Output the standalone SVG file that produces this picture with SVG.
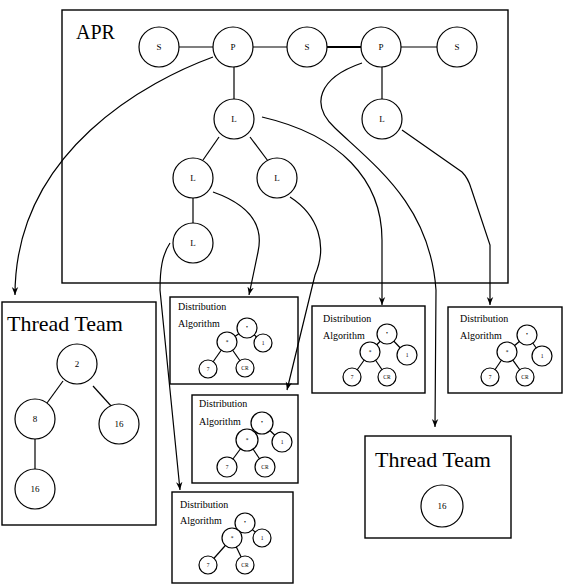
<svg xmlns="http://www.w3.org/2000/svg" width="570" height="585" viewBox="0 0 570 585">
<style>
rect.box{fill:none;stroke:#000;stroke-width:1.4}
circle{fill:#fff;stroke:#000;stroke-width:1.2}
.e{stroke:#000;stroke-width:1.2;fill:none}
.c{stroke:#000;stroke-width:1.2;fill:none;marker-end:url(#ah)}
text{font-family:"Liberation Serif","Times New Roman",serif;fill:#000}
.n{font-size:9px;text-anchor:middle;dominant-baseline:central}
.s{font-size:5.5px;text-anchor:middle;dominant-baseline:central}
.big{font-size:22px}
.d{font-size:10px}
</style>
<defs>
<marker id="ah" viewBox="0 0 10 10" refX="10" refY="5" markerWidth="8" markerHeight="8" markerUnits="userSpaceOnUse" orient="auto">
<path d="M0,1 L10,5 L0,9 L3,5 Z" fill="#000"/>
</marker>
</defs>
<rect width="570" height="585" fill="#fff"/>

<g id="apr">
<rect class="box" x="62" y="10" width="446" height="273"/>
<text x="76" y="39" style="font-size:20px">APR</text>
<g class="e">
<line x1="179" y1="47" x2="213" y2="47"/>
<line x1="253" y1="47" x2="287" y2="47"/>
<line x1="327" y1="47" x2="361" y2="47" stroke-width="1.8"/>
<line x1="401" y1="47" x2="437" y2="47"/>
<line x1="234" y1="67" x2="234" y2="99"/>
<line x1="382" y1="67" x2="382" y2="99"/>
<line x1="219" y1="137" x2="203" y2="160"/>
<line x1="250" y1="137" x2="268" y2="161"/>
<line x1="193" y1="198" x2="193" y2="223"/>
</g>
</g>
<g id="s1"><circle cx="159" cy="47" r="20"/><text class="n" x="159" y="47">S</text></g>
<g id="p1"><circle cx="233" cy="47" r="20"/><text class="n" x="233" y="47">P</text></g>
<g id="s2"><circle cx="307" cy="47" r="20"/><text class="n" x="307" y="47">S</text></g>
<g id="p2"><circle cx="381" cy="47" r="20"/><text class="n" x="381" y="47">P</text></g>
<g id="s3"><circle cx="457" cy="47" r="20"/><text class="n" x="457" y="47">S</text></g>
<g id="l1"><circle cx="234" cy="119" r="20"/><text class="n" x="234" y="119">L</text></g>
<g id="l2"><circle cx="382" cy="119" r="20"/><text class="n" x="382" y="119">L</text></g>
<g id="l3"><circle cx="193" cy="178" r="20"/><text class="n" x="193" y="178">L</text></g>
<g id="l4"><circle cx="277" cy="178" r="20"/><text class="n" x="277" y="178">L</text></g>
<g id="l5"><circle cx="193" cy="243" r="20"/><text class="n" x="193" y="243">L</text></g>

<g id="tt1">
<rect class="box" x="2" y="302" width="154" height="223"/>
<text class="big" x="7" y="331">Thread Team</text>
<g class="e">
<line x1="63" y1="381" x2="47" y2="403"/>
<line x1="93" y1="386" x2="112" y2="407"/>
<line x1="35" y1="439" x2="35" y2="469"/>
</g>
<circle cx="77" cy="364" r="20"/><text class="n" x="77" y="364">2</text>
<circle cx="35" cy="419" r="20"/><text class="n" x="35" y="419">8</text>
<circle cx="119" cy="424" r="20"/><text class="n" x="119" y="424">16</text>
<circle cx="35" cy="489" r="20"/><text class="n" x="35" y="489">16</text>
</g>

<g id="tt2">
<rect class="box" x="365" y="436" width="146" height="102"/>
<text class="big" x="375" y="467">Thread Team</text>
<circle cx="442" cy="506" r="21"/><text class="n" x="442" y="506">16</text>
</g>

<g id="da1">
<rect class="box" x="170" y="297" width="128" height="87"/>
<text class="d" x="178" y="310">Distribution</text>
<text class="d" x="178" y="327">Algorithm</text>
<g class="e"><line x1="247" y1="328" x2="227" y2="342"/><line x1="247" y1="328" x2="263" y2="343"/><line x1="227" y1="342" x2="208" y2="369"/><line x1="227" y1="342" x2="245" y2="368"/></g>
<circle cx="247" cy="328" r="10"/><text class="s" x="247" y="327">•</text>
<circle cx="227" cy="342" r="10"/><text class="s" x="227" y="342">*</text>
<circle cx="263" cy="343" r="9"/><text class="s" x="263" y="343">1</text>
<circle cx="208" cy="369" r="9"/><text class="s" x="208" y="369">7</text>
<circle cx="245" cy="368" r="9"/><text class="s" x="245" y="368">CR</text>
</g>

<g id="da2">
<rect class="box" x="312" y="306" width="113" height="87"/>
<text class="d" x="323" y="322">Distribution</text>
<text class="d" x="323" y="339">Algorithm</text>
<g class="e"><line x1="387" y1="334" x2="370" y2="352"/><line x1="387" y1="334" x2="407" y2="355"/><line x1="370" y1="352" x2="352" y2="377"/><line x1="370" y1="352" x2="387" y2="377"/></g>
<circle cx="387" cy="334" r="10"/><text class="s" x="387" y="333">•</text>
<circle cx="370" cy="352" r="10"/><text class="s" x="370" y="352">*</text>
<circle cx="407" cy="355" r="10"/><text class="s" x="407" y="355">1</text>
<circle cx="352" cy="377" r="9"/><text class="s" x="352" y="377">7</text>
<circle cx="387" cy="377" r="9"/><text class="s" x="387" y="377">CR</text>
</g>

<g id="da3">
<rect class="box" x="448" y="307" width="114" height="86"/>
<text class="d" x="460" y="322">Distribution</text>
<text class="d" x="460" y="339">Algorithm</text>
<g class="e"><line x1="527" y1="335" x2="507" y2="352"/><line x1="527" y1="335" x2="542" y2="356"/><line x1="507" y1="352" x2="490" y2="377"/><line x1="507" y1="352" x2="525" y2="377"/></g>
<circle cx="527" cy="335" r="10"/><text class="s" x="527" y="334">•</text>
<circle cx="507" cy="352" r="10"/><text class="s" x="507" y="352">*</text>
<circle cx="542" cy="356" r="10"/><text class="s" x="542" y="356">1</text>
<circle cx="490" cy="377" r="9"/><text class="s" x="490" y="377">7</text>
<circle cx="525" cy="377" r="9"/><text class="s" x="525" y="377">CR</text>
</g>

<g id="da4">
<rect class="box" x="192" y="395" width="106" height="88"/>
<text class="d" x="199" y="407">Distribution</text>
<text class="d" x="199" y="425">Algorithm</text>
<g class="e"><line x1="262" y1="423" x2="247" y2="440"/><line x1="262" y1="423" x2="282" y2="442"/><line x1="247" y1="440" x2="227" y2="467"/><line x1="247" y1="440" x2="265" y2="467"/></g>
<circle cx="262" cy="423" r="11"/><text class="s" x="262" y="422">•</text>
<circle cx="247" cy="440" r="11"/><text class="s" x="247" y="440">*</text>
<circle cx="282" cy="442" r="10"/><text class="s" x="282" y="442">1</text>
<circle cx="227" cy="467" r="10"/><text class="s" x="227" y="467">7</text>
<circle cx="265" cy="467" r="10"/><text class="s" x="265" y="467">CR</text>
</g>

<g id="da5">
<rect class="box" x="172" y="492" width="121" height="91"/>
<text class="d" x="180" y="508">Distribution</text>
<text class="d" x="180" y="524">Algorithm</text>
<g class="e"><line x1="245" y1="523" x2="232" y2="538"/><line x1="245" y1="523" x2="262" y2="538"/><line x1="232" y1="538" x2="208" y2="565"/><line x1="232" y1="538" x2="245" y2="565"/></g>
<circle cx="245" cy="523" r="10"/><text class="s" x="245" y="522">•</text>
<circle cx="232" cy="538" r="10"/><text class="s" x="232" y="538">*</text>
<circle cx="262" cy="538" r="9"/><text class="s" x="262" y="538">1</text>
<circle cx="208" cy="565" r="9"/><text class="s" x="208" y="565">7</text>
<circle cx="245" cy="565" r="9"/><text class="s" x="245" y="565">CR</text>
</g>

<g id="connectors">
<path class="c" d="M213,57 C150,80 15,150 15,295"/>
<path class="c" d="M262,117 C340,135 382,180 382,240 L382,305"/>
<path class="c" d="M362,63 C318,78 310,105 335,128 C375,166 430,205 436,290 L435,427"/>
<path class="c" d="M402,130 L462,172 Q468,178 471,188 L490,245 L490,305"/>
<path class="c" d="M213,192 C250,205 264,225 258,252 L249,295"/>
<path class="c" d="M290,197 C318,215 328,245 315,275 L287,390"/>
<path class="c" d="M170,243 C162,255 160,270 160,290 L180,490"/>
</g>
</svg>
